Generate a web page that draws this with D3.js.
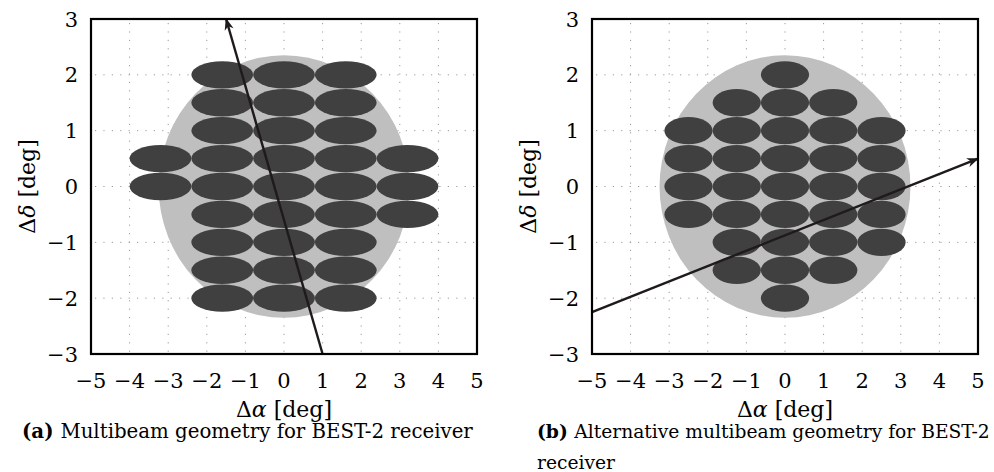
<!DOCTYPE html>
<html>
<head>
<meta charset="utf-8">
<script src="https://cdn.jsdelivr.net/npm/d3@7"></script>
<style>
  html, body { margin: 0; padding: 0; background: #fff; }
  svg { display: block; }
  text { font-family: "DejaVu Serif", "Liberation Serif", serif; fill: #000; }
</style>
</head>
<body>
<svg id="chart" width="994" height="472"></svg>
<script>
// Axis ticks (degrees)
const xTicks = [-5, -4, -3, -2, -1, 0, 1, 2, 3, 4, 5];
const yTicks = [-3, -2, -1, 0, 1, 2, 3];

// Beam centres [Δα, Δδ] for the standard BEST-2 layout (32 beams)
const beamsA = [
  [-1.6, 2], [0, 2], [1.6, 2],
  [-1.6, 1.5], [0, 1.5], [1.6, 1.5],
  [-1.6, 1], [0, 1], [1.6, 1],
  [-3.2, 0.5], [-1.6, 0.5], [0, 0.5], [1.6, 0.5], [3.2, 0.5],
  [-3.2, 0], [-1.6, 0], [0, 0], [1.6, 0], [3.2, 0],
  [-1.6, -0.5], [0, -0.5], [1.6, -0.5], [3.2, -0.5],
  [-1.6, -1], [0, -1], [1.6, -1],
  [-1.6, -1.5], [0, -1.5], [1.6, -1.5],
  [-1.6, -2], [0, -2], [1.6, -2]
];

// Beam centres for the alternative layout (32 beams)
const beamsB = [
  [0, 2],
  [-1.25, 1.5], [0, 1.5], [1.25, 1.5],
  [-2.5, 1], [-1.25, 1], [0, 1], [1.25, 1], [2.5, 1],
  [-2.5, 0.5], [-1.25, 0.5], [0, 0.5], [1.25, 0.5], [2.5, 0.5],
  [-2.5, 0], [-1.25, 0], [0, 0], [1.25, 0], [2.5, 0],
  [-2.5, -0.5], [-1.25, -0.5], [0, -0.5], [1.25, -0.5], [2.5, -0.5],
  [-1.25, -1], [0, -1], [1.25, -1], [2.5, -1],
  [-1.25, -1.5], [0, -1.5], [1.25, -1.5],
  [0, -2]
];

// Scan direction (start, end) in each layout
const scanA = [[1, -3], [-1.5, 3]];
const scanB = [[-5, -2.25], [5, 0.5]];

// Primary field-of-view and beam half-axes (degrees)
const fovRx = 3.25, fovRy = 2.35;
const beamRxA = 0.8, beamRxB = 0.625, beamRy = 0.245;

const svg = d3.select("#chart");

// arrow head marker
svg.append("defs").append("marker")
  .attr("id", "head")
  .attr("viewBox", "-12 -6 14 12")
  .attr("refX", 0).attr("refY", 0)
  .attr("markerUnits", "userSpaceOnUse")
  .attr("markerWidth", 14).attr("markerHeight", 12)
  .attr("orient", "auto")
  .append("path")
  .attr("d", "M1,0 L-11,-4.6 L-7.5,0 L-11,4.6 Z")
  .attr("fill", "#1f1a1b");

// scale a caption's font so its first line spans the given width
function fitCaption(textSel, width) {
  let size = 17;
  textSel.attr("font-size", size);
  const w = textSel.node().getComputedTextLength();
  size = size * width / w;
  textSel.attr("font-size", size);
  return size;
}

function panel(cfg) {
  const x = d3.scaleLinear().domain([-5, 5]).range([cfg.left, cfg.right]);
  const y = d3.scaleLinear().domain([-3, 3]).range([cfg.bottom, cfg.top]);
  const g = svg.append("g");

  // dotted grid
  const grid = g.append("g").attr("stroke", "#9a9a9a").attr("stroke-width", 1)
    .attr("stroke-dasharray", "1.2 7.2");
  grid.selectAll("line.v").data(xTicks.slice(1, -1)).join("line")
    .attr("x1", d => x(d)).attr("x2", d => x(d))
    .attr("y1", y(3) + 4).attr("y2", y(-3));
  grid.selectAll("line.h").data(yTicks.slice(1, -1)).join("line")
    .attr("y1", d => y(d)).attr("y2", d => y(d))
    .attr("x1", x(-5) + 4).attr("x2", x(5));

  // field of view
  g.append("ellipse")
    .attr("cx", x(0)).attr("cy", y(0))
    .attr("rx", x(fovRx) - x(0)).attr("ry", y(0) - y(fovRy))
    .attr("fill", "#bfbfbf");

  // beams
  g.selectAll("ellipse.beam").data(cfg.beams).join("ellipse")
    .attr("class", "beam")
    .attr("cx", d => x(d[0])).attr("cy", d => y(d[1]))
    .attr("rx", x(cfg.beamRx) - x(0)).attr("ry", y(0) - y(beamRy))
    .attr("fill", "#404040");

  // scan direction
  g.append("line")
    .attr("x1", x(cfg.scan[0][0])).attr("y1", y(cfg.scan[0][1]))
    .attr("x2", x(cfg.scan[1][0])).attr("y2", y(cfg.scan[1][1]))
    .attr("stroke", "#1f1a1b").attr("stroke-width", 2.4)
    .attr("marker-end", "url(#head)");

  // frame
  g.append("rect")
    .attr("x", x(-5)).attr("y", y(3))
    .attr("width", x(5) - x(-5)).attr("height", y(-3) - y(3))
    .attr("fill", "none").attr("stroke", "#000").attr("stroke-width", 2.2);

  const fmt = v => (v < 0 ? "\u2212" + Math.abs(v) : String(v));

  // x tick labels
  g.selectAll("text.xt").data(xTicks).join("text")
    .attr("x", d => x(d)).attr("y", cfg.bottom + 34)
    .attr("text-anchor", "middle").attr("font-size", 21)
    .text(fmt);

  // y tick labels
  g.selectAll("text.yt").data(yTicks).join("text")
    .attr("x", cfg.left - 13).attr("y", d => y(d) + 7.6)
    .attr("text-anchor", "end").attr("font-size", 21)
    .text(fmt);

  // x axis title
  const xt = g.append("text")
    .attr("x", x(0)).attr("y", cfg.bottom + 63)
    .attr("text-anchor", "middle").attr("font-size", 22);
  xt.append("tspan").text("\u0394");
  xt.append("tspan").attr("font-style", "italic").text("\u03b1");
  xt.append("tspan").text(" [deg]");

  // y axis title
  const yt = g.append("text")
    .attr("transform", `translate(${cfg.left - 56},${y(0)}) rotate(-90)`)
    .attr("text-anchor", "middle").attr("font-size", 22);
  yt.append("tspan").text("\u0394");
  yt.append("tspan").attr("font-style", "italic").text("\u03b4");
  yt.append("tspan").text(" [deg]");

  // caption
  let capSize = 17;
  cfg.caption.forEach((line, i) => {
    const t = g.append("text")
      .attr("x", cfg.capX).attr("y", 438 + i * 31);
    if (line.tag) t.append("tspan").attr("font-weight", "bold").text(line.tag + " ");
    t.append("tspan").text(line.text);
    if (i === 0) capSize = fitCaption(t, cfg.capWidth);
    else t.attr("font-size", capSize);
  });
}

panel({
  left: 91, right: 477, top: 19, bottom: 354,
  beams: beamsA, beamRx: beamRxA, scan: scanA,
  capX: 22, capWidth: 451,
  caption: [{ tag: "(a)", text: "Multibeam geometry for BEST-2 receiver" }]
});

panel({
  left: 592, right: 978, top: 19, bottom: 354,
  beams: beamsB, beamRx: beamRxB, scan: scanB,
  capX: 537, capWidth: 453,
  caption: [
    { tag: "(b)", text: "Alternative multibeam geometry for BEST-2" },
    { text: "receiver" }
  ]
});
</script>
</body>
</html>
